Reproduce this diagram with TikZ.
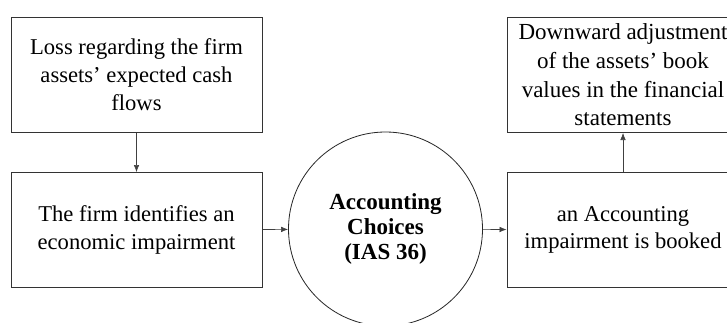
\documentclass[tikz,border=0pt]{standalone}
\usepackage{fontspec}
\setmainfont{Liberation Serif}
\usepackage{tikz}
\usetikzlibrary{arrows,arrows.meta,positioning}

\begin{document}
\begin{tikzpicture}[x=1pt,y=-1pt,
	box/.style={draw=black!80, line width=1pt, minimum width=251pt, minimum height=115pt, align=center, inner sep=2pt, font=\fontsize{22.6}{27.8}\selectfont},
	choice/.style={circle, draw=black!85, line width=0.8pt, minimum size=194pt, align=center, inner sep=0pt, font=\bfseries\fontsize{23}{25}\selectfont},
	flow/.style={draw=black!75, line width=0.6pt, -{Latex[length=7pt,width=5.5pt]}}]
	\clip (0,0) rectangle (727,322);
	\fill[white] (0,0) rectangle (727,322);
	\node[box] (loss) at (136.5,74.5) {Loss regarding the firm\\assets' expected cash\\flows};
	\node[box] (firm) at (136.5,230) {The firm identifies an\\economic impairment};
	\node[choice] (acc) at (385.5,229) {Accounting\\Choices\\(IAS 36)};
	\node[box, minimum width=232pt] (booked) at (623,230) {an Accounting\\impairment is booked};
	\node[box, minimum width=232pt, font=\fontsize{23}{28.6}\selectfont] (adjust) at (623,75) {Downward adjustment\\of the assets' book\\values in the financial\\statements};
	\draw[flow] (loss) -- (firm);
	\draw[flow] (firm) -- (acc);
	\draw[flow] (acc) -- (booked);
	\draw[flow] (booked) -- (adjust);
\end{tikzpicture}
\end{document}
